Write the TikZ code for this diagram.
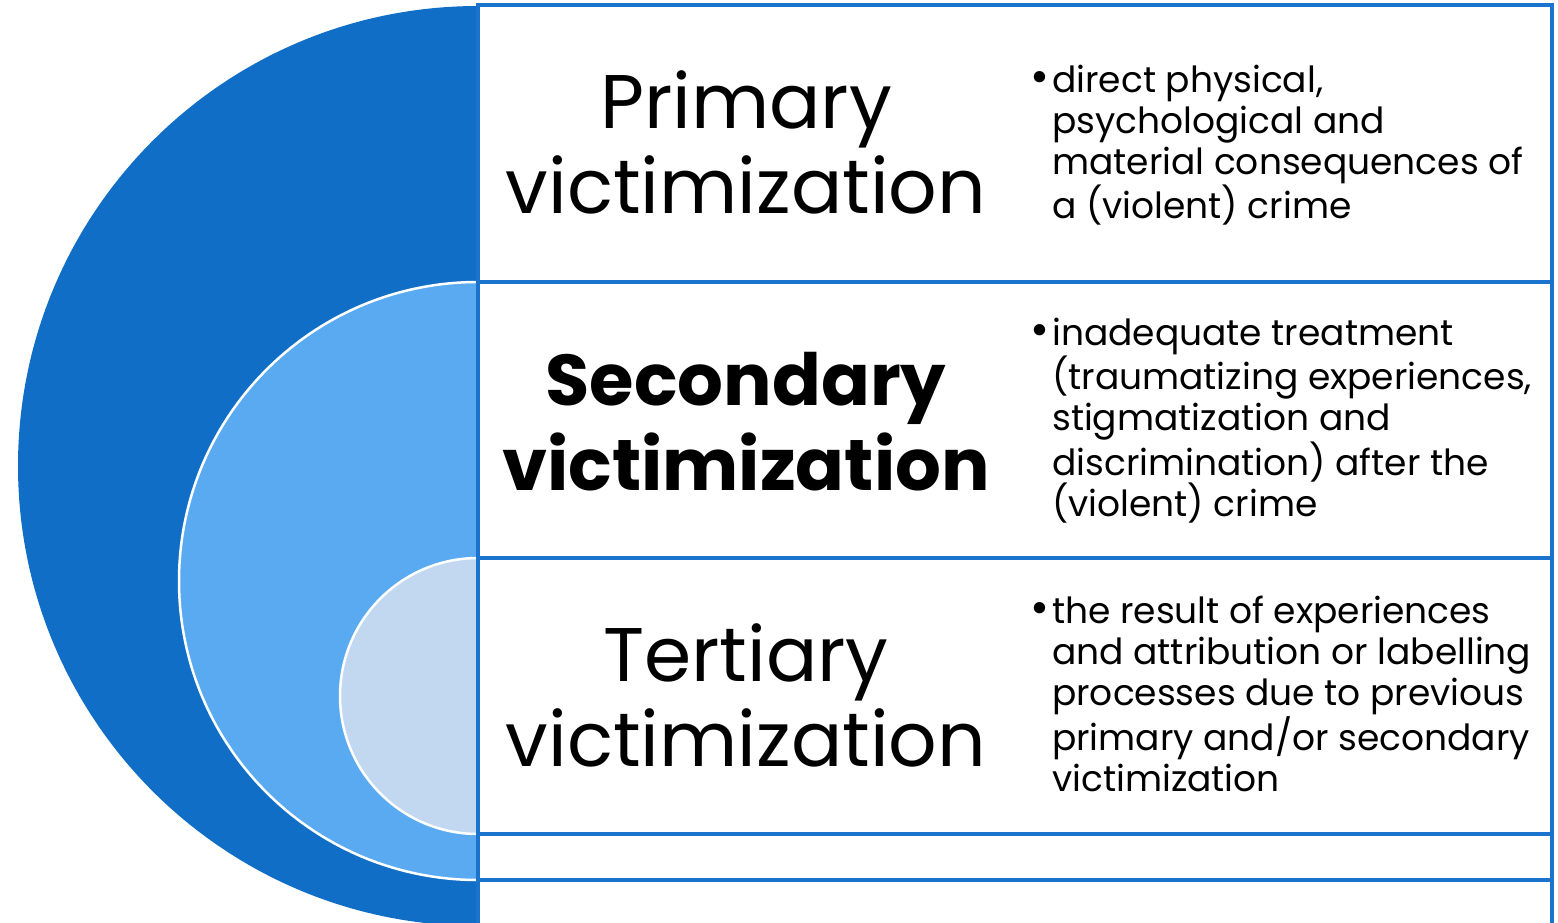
\documentclass[tikz,border=0pt]{standalone}
\usepackage{fontspec}
\setmainfont{Poppins}
\definecolor{darkblue}{RGB}{16,110,198}
\definecolor{midblue}{RGB}{90,170,242}
\definecolor{paleblue}{RGB}{194,216,240}
\definecolor{lineblue}{RGB}{26,115,204}
\newcommand{\bul}{\llap{\fontsize{46}{46}\selectfont•\hspace{3pt}}}
\tikzset{
  halfdisc/.style={draw=white, line width=2.5pt},
  rowbox/.style={draw=lineblue, line width=3.5pt, fill=white, anchor=north west, minimum width=1074pt, inner sep=0pt, outer sep=0pt},
  title/.style={align=center, font=\fontsize{76}{85}\selectfont, anchor=base, inner sep=0pt},
  bullettext/.style={align=left, font=\fontsize{36}{41}\selectfont, anchor=base west, inner sep=0pt}
}
\begin{document}
\begin{tikzpicture}[x=1pt,y=-1pt]
\useasboundingbox (0,0) rectangle (1558,922);
\begin{scope}
\clip (0,0) rectangle (1558,922);
% half discs
\fill[darkblue] (478,6) arc[start angle=-90, end angle=-270, radius=460] -- cycle;
\path[halfdisc, fill=midblue] (478,282) arc[start angle=-90, end angle=-270, radius=299] -- cycle;
\path[halfdisc, fill=paleblue] (478,558) arc[start angle=-90, end angle=-270, radius=138] -- cycle;
% rows
\node[rowbox, minimum height=277pt] (r1) at (478,5) {};
\node[rowbox, minimum height=276pt] (r2) at (478,282) {};
\node[rowbox, minimum height=276pt] (r3) at (478,558) {};
\node[rowbox, minimum height=46pt] (r4) at (478,834) {};
\node[rowbox, minimum height=60pt] (r5) at (478,880) {};
\end{scope}
% titles
\node[title] (t1) at (746,213) {Primary\\victimization};
\node[title, font=\fontsize{72}{85}\selectfont\bfseries] (t2) at (746,490) {Secondary\\victimization};
\node[title] (t3) at (746,766) {Tertiary\\victimization};
% bullets
\node[bullettext] (b1) at (1052,218) {\bul direct physical,\\psychological and\\material consequences of\\a (violent) crime};
\node[bullettext] (b2) at (1052,516) {\bul inadequate treatment\\(traumatizing experiences,\\stigmatization and\\discrimination) after the\\(violent) crime};
\node[bullettext] (b3) at (1052,791) {\bul the result of experiences\\and attribution or labelling\\processes due to previous\\primary and/or secondary\\victimization};
\end{tikzpicture}
\end{document}
